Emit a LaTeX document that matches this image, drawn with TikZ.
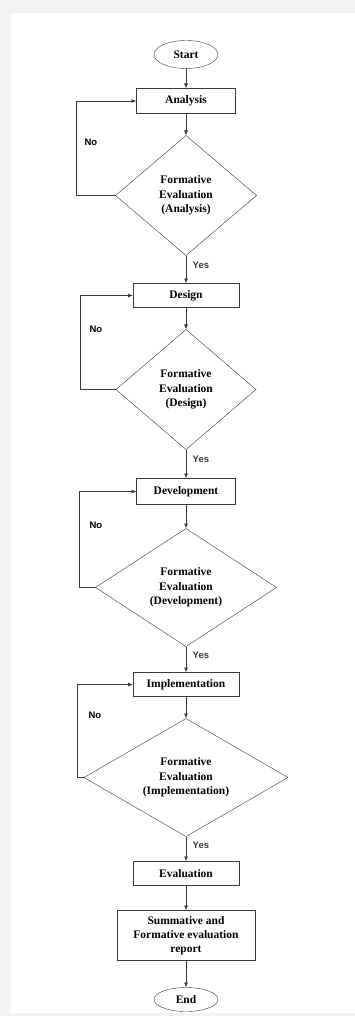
\documentclass[tikz,border=0pt]{standalone}
\usepackage{fontspec}
\setmainfont{Liberation Serif}
\newfontfamily\labelfont{Liberation Sans}
\usepackage{xcolor}
\usetikzlibrary{arrows.meta,positioning,shapes.geometric}
\definecolor{LineGray}{HTML}{3A3A3A}
\definecolor{FrameGray}{HTML}{F3F3F3}

\begin{document}
\begin{tikzpicture}[
  x=1pt,y=-1pt,
  node distance=22pt,
  term/.style={draw=LineGray,ellipse,inner sep=0pt,outer sep=0pt,minimum width=64pt,minimum height=28pt,font=\fontsize{11.5}{14}\selectfont\bfseries},
  stage/.style={draw=LineGray,rectangle,inner sep=0pt,outer sep=0pt,minimum width=102pt,minimum height=25pt,align=center,font=\fontsize{11.5}{14}\selectfont\bfseries},
  check/.style={draw=LineGray,diamond,inner sep=0pt,outer sep=0pt,minimum height=120pt,align=center,font=\fontsize{11.5}{14.5}\selectfont\bfseries},
  arrow/.style={-{Latex[length=5pt,width=4pt]},line width=0.8pt,LineGray},
  yes/.style={right,pos=0.35,xshift=3pt,font=\labelfont\fontsize{9.5}{11}\selectfont\bfseries},
  no/.style={anchor=west,font=\labelfont\fontsize{9.5}{11}\selectfont\bfseries}
]
\useasboundingbox (0,0) rectangle (355,1016);
\fill[FrameGray] (0,0) rectangle (355,1016);
\fill[white] (11,13) rectangle (355,1013);

\node[term] (start) at (186,54.5) {Start};
\node[stage,minimum width=99pt,below=20pt of start] (ana) {Analysis};
\node[check,aspect=1.18,minimum width=141pt,below=22pt of ana] (fe1) {Formative\\Evaluation\\(Analysis)};
\node[stage,minimum width=106pt,minimum height=24pt,below=28pt of fe1] (des) {Design};
\node[check,aspect=1.17,minimum width=140pt,below=22pt of des] (fe2) {Formative\\Evaluation\\(Design)};
\node[stage,minimum width=99pt,minimum height=26pt,below=29pt of fe2] (dev) {Development};
\node[check,aspect=1.53,minimum width=181pt,minimum height=118pt,below=24pt of dev] (fe3) {Formative\\Evaluation\\(Development)};
\node[stage,minimum width=106pt,minimum height=24pt,below=26pt of fe3] (imp) {Implementation};
\node[check,aspect=1.73,minimum width=204pt,minimum height=118pt,below=22pt of imp] (fe4) {Formative\\Evaluation\\(Implementation)};
\node[stage,minimum width=106pt,minimum height=24pt,below=25pt of fe4] (eval) {Evaluation};
\node[stage,minimum width=138pt,minimum height=50pt,below=25pt of eval] (report) {Summative and\\Formative evaluation\\report};
\node[term,minimum height=24pt,below=27pt of report] (end) {End};

\draw[arrow] (start) -- (ana);
\draw[arrow] (ana) -- (fe1);
\draw[arrow] (fe1) -- node[yes] (yes1) {Yes} (des);
\draw[arrow] (des) -- (fe2);
\draw[arrow] (fe2) -- node[yes] (yes2) {Yes} (dev);
\draw[arrow] (dev) -- (fe3);
\draw[arrow] (fe3) -- node[yes] (yes3) {Yes} (imp);
\draw[arrow] (imp) -- (fe4);
\draw[arrow] (fe4) -- node[yes] (yes4) {Yes} (eval);
\draw[arrow] (eval) -- (report);
\draw[arrow] (report) -- (end);

\draw[arrow] (fe1.west) -- ++(-39,0) |- (ana.west);
\draw[arrow] (fe2.west) -- ++(-36,0) |- (des.west);
\draw[arrow] (fe3.west) -- ++(-16,0) |- (dev.west);
\draw[arrow] (fe4.west) -- ++(-7,0) |- (imp.west);

\node[no] (no1) at (81,142) {No};
\node[no] (no2) at (86,329) {No};
\node[no] (no3) at (86,525) {No};
\node[no] (no4) at (85,715) {No};
\end{tikzpicture}
\end{document}
